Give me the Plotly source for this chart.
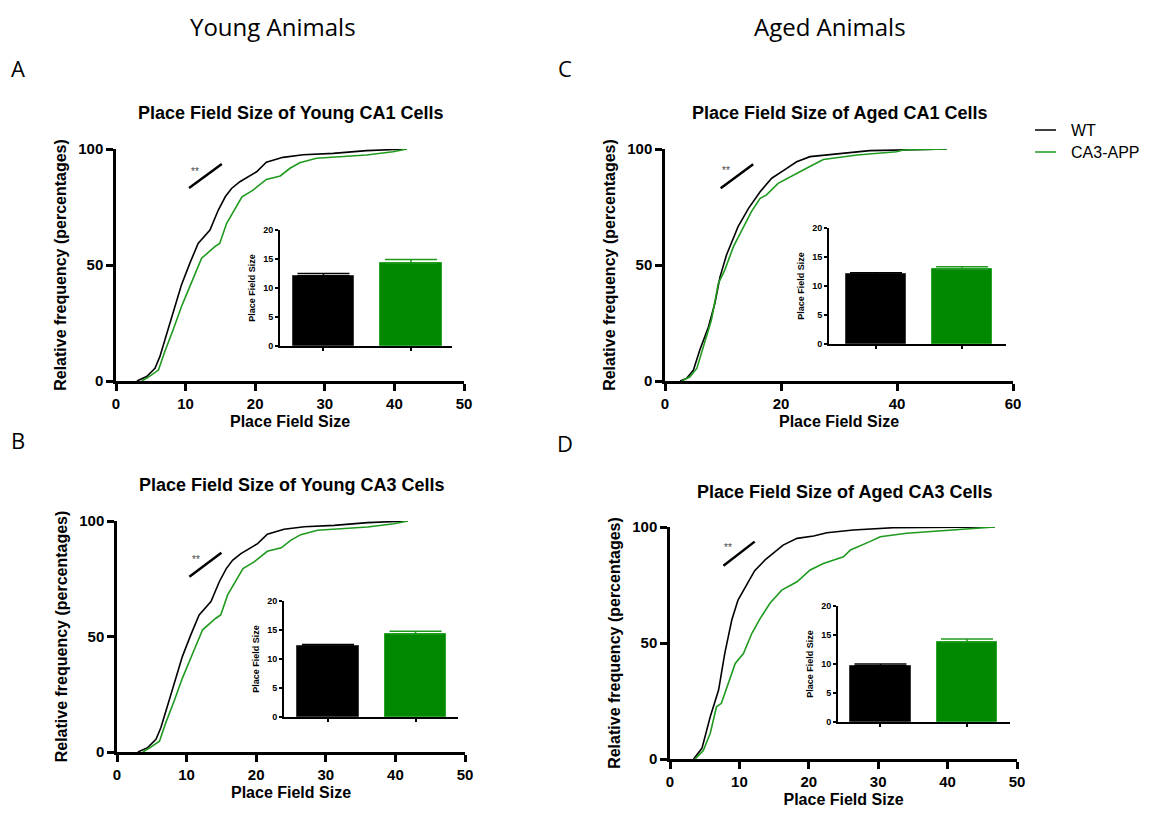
import plotly.graph_objects as go

W, H = 1163, 817
OFF = 8  # page body margin
FW, FH = W - 2 * OFF, H - 2 * OFF

# ---------------- data ----------------
groups = ["WT", "CA3-APP"]

# Young CA1 cumulative curves
young_ca1_wt_x = [3.0, 4.4, 5.6, 6.3, 7.3, 8.2, 9.4, 10.6, 11.8, 13.5, 14.7, 15.7, 16.6, 17.8, 20.2, 21.6, 24.0, 26.9, 31.2, 36.0, 41.8]
young_ca1_wt_y = [0, 1.9, 5.5, 10.5, 20.5, 29.9, 41.4, 50.7, 59.3, 65.1, 73.7, 79.4, 83.0, 85.9, 90.2, 94.3, 96.4, 97.5, 98.1, 99.3, 100]
young_ca1_app_x = [3.7, 4.6, 6.1, 7.0, 8.2, 9.4, 10.6, 11.6, 12.3, 14.2, 14.9, 15.9, 16.9, 18.1, 19.7, 21.6, 23.6, 25.0, 26.4, 28.8, 36.0, 39.8, 41.8]
young_ca1_app_y = [0, 1.6, 4.7, 12.6, 22.0, 32.0, 40.7, 47.8, 52.9, 57.9, 59.3, 68.0, 73.0, 79.4, 82.3, 86.9, 88.4, 91.7, 94.1, 96.0, 97.4, 98.8, 100]

# Young CA3 cumulative curves
young_ca3_wt_x = [3.0, 4.4, 5.6, 6.3, 7.3, 8.2, 9.4, 10.6, 11.8, 13.5, 14.7, 15.7, 16.6, 17.8, 20.2, 21.6, 24.0, 26.9, 31.2, 36.0, 41.8]
young_ca3_wt_y = [0, 1.9, 5.5, 10.5, 20.5, 29.9, 41.4, 50.7, 59.3, 65.1, 73.7, 79.4, 83.0, 85.9, 90.2, 94.3, 96.4, 97.5, 98.1, 99.3, 100]
young_ca3_app_x = [3.7, 4.6, 6.1, 7.0, 8.2, 9.4, 10.6, 11.6, 12.3, 14.2, 14.9, 15.9, 16.9, 18.1, 19.7, 21.6, 23.6, 25.0, 26.4, 28.8, 36.0, 39.8, 41.8]
young_ca3_app_y = [0, 1.6, 4.7, 12.6, 22.0, 32.0, 40.7, 47.8, 52.9, 57.9, 59.3, 68.0, 73.0, 79.4, 82.3, 86.9, 88.4, 91.7, 94.1, 96.0, 97.4, 98.8, 100]

# Aged CA1 cumulative curves
aged_ca1_wt_x = [2.6, 3.7, 4.9, 6.0, 7.5, 8.6, 9.5, 10.6, 12.6, 14.4, 16.4, 18.4, 20.4, 22.7, 25.0, 29.6, 35.3, 48.6]
aged_ca1_wt_y = [0, 1.1, 4.7, 13.4, 23.4, 33.5, 45.0, 54.3, 66.5, 74.4, 81.6, 87.4, 90.7, 94.5, 96.7, 97.8, 99.3, 100]
aged_ca1_app_x = [2.9, 4.3, 5.5, 6.6, 8.0, 9.2, 10.3, 11.8, 13.5, 14.9, 16.4, 17.5, 19.5, 22.1, 24.4, 27.3, 33.1, 39.9, 41.1, 48.6]
aged_ca1_app_y = [0, 1.8, 5.5, 14.8, 26.3, 42.1, 47.8, 57.9, 66.5, 73.0, 78.7, 80.2, 85.2, 88.8, 91.7, 95.5, 97.4, 98.8, 99.6, 100]

# Aged CA3 cumulative curves
aged_ca3_wt_x = [3.4, 4.6, 5.8, 7.0, 7.9, 8.9, 9.8, 11.0, 12.2, 13.7, 14.9, 16.3, 18.3, 20.7, 22.6, 26.4, 32.2, 46.8]
aged_ca3_wt_y = [0, 4.6, 18.2, 29.7, 45.6, 59.9, 68.5, 75.0, 81.2, 85.8, 88.7, 92.2, 95.1, 96.1, 97.5, 98.7, 99.7, 100]
aged_ca3_app_x = [3.6, 4.8, 5.8, 6.7, 7.4, 8.4, 9.4, 10.6, 11.8, 13.0, 14.4, 16.1, 18.3, 20.2, 22.1, 25.0, 26.0, 28.8, 30.3, 34.1, 38.9, 41.8, 46.8]
aged_ca3_app_y = [0, 3.6, 11.1, 22.5, 24.0, 32.6, 41.2, 45.6, 54.2, 60.6, 67.1, 72.8, 76.4, 81.5, 84.3, 87.2, 90.1, 93.7, 95.8, 97.3, 98.3, 99.0, 100]

# Inset bar charts: mean place field size and SEM
young_ca1_mean = [12.1, 14.3]
young_ca1_sem = [0.4, 0.6]
young_ca3_mean = [12.2, 14.3]
young_ca3_sem = [0.3, 0.5]
aged_ca1_mean = [12.0, 12.9]
aged_ca1_sem = [0.3, 0.4]
aged_ca3_mean = [9.7, 13.8]
aged_ca3_sem = [0.3, 0.5]

# significance marks (line ends in data units, label position)
young_ca1_sig = [10.5, 83.2, 15.2, 93.5, 11.35, 90.5]
young_ca3_sig = [10.4, 75.9, 15.0, 86.3, 11.35, 83.4]
aged_ca1_sig = [9.6, 83.1, 15.2, 93.4, 10.6, 90.6]
aged_ca3_sig = [7.7, 83.3, 12.2, 93.7, 8.4, 91.1]

titles = ["Place Field Size of Young CA1 Cells", "Place Field Size of Young CA3 Cells",
          "Place Field Size of Aged CA1 Cells", "Place Field Size of Aged CA3 Cells"]
x_max = [50, 50, 60, 50]
x_dtick = [10, 10, 20, 10]

# ---------------- styling / layout ----------------
BLACK = "#000000"
GREEN_LINE = "#1f9a1f"
GREEN_BAR = "#008800"
FONT = "Arial, Liberation Sans, sans-serif"


def px(x):
    return (x - OFF) / FW


def py(y):
    return 1 - (y - OFF) / FH


def dx(a, b):
    return [px(a), px(b)]


def dy(top, bot):
    return [py(bot), py(top)]


panels = [
    dict(curves=(young_ca1_wt_x, young_ca1_wt_y, young_ca1_app_x, young_ca1_app_y),
         mean=young_ca1_mean, sem=young_ca1_sem, sig=young_ca1_sig,
         main=(116, 464, 149, 381), inset=(280, 452, 230, 346), irange=[-0.497, 1.469],
         title_pos=(290, 113)),
    dict(curves=(young_ca3_wt_x, young_ca3_wt_y, young_ca3_app_x, young_ca3_app_y),
         mean=young_ca3_mean, sem=young_ca3_sem, sig=young_ca3_sig,
         main=(117, 465, 521, 752), inset=(284, 458, 601, 717), irange=[-0.503, 1.485],
         title_pos=(291, 485)),
    dict(curves=(aged_ca1_wt_x, aged_ca1_wt_y, aged_ca1_app_x, aged_ca1_app_y),
         mean=aged_ca1_mean, sem=aged_ca1_sem, sig=aged_ca1_sig,
         main=(665, 1013, 149, 381), inset=(829, 1006, 228, 344), irange=[-0.547, 1.51],
         title_pos=(839, 113)),
    dict(curves=(aged_ca3_wt_x, aged_ca3_wt_y, aged_ca3_app_x, aged_ca3_app_y),
         mean=aged_ca3_mean, sem=aged_ca3_sem, sig=aged_ca3_sig,
         main=(670, 1017, 527, 759), inset=(838, 1010, 606, 722), irange=[-0.491, 1.497],
         title_pos=(844, 492)),
]

fig = go.Figure()
layout = {}
annotations = []
shapes = []

for i, p in enumerate(panels):
    m = 2 * i + 1
    n = 2 * i + 2
    xm = "x" if m == 1 else f"x{m}"
    ym = "y" if m == 1 else f"y{m}"
    xi, yi = f"x{n}", f"y{n}"
    wx, wy, ax_, ay_ = p["curves"]
    fig.add_trace(go.Scatter(x=wx, y=wy, mode="lines", name=groups[0],
                             line=dict(color=BLACK, width=1.6), xaxis=xm, yaxis=ym,
                             showlegend=False, cliponaxis=False))
    fig.add_trace(go.Scatter(x=ax_, y=ay_, mode="lines", name=groups[1],
                             line=dict(color=GREEN_LINE, width=1.6), xaxis=xm, yaxis=ym,
                             showlegend=False, cliponaxis=False))
    for k in range(2):
        fig.add_trace(go.Bar(x=[k], y=[p["mean"][k]], width=0.7, name=groups[k],
                             marker=dict(color=BLACK if k == 0 else GREEN_BAR,
                                         line=dict(color="#3a3a3a" if k == 0 else "#2aa52a", width=1)),
                             error_y=dict(type="data", symmetric=False, array=[p["sem"][k]],
                                          arrayminus=[0], color=BLACK if k == 0 else GREEN_LINE,
                                          thickness=1.5, width=26),
                             xaxis=xi, yaxis=yi, showlegend=False))

    x0, x1, t, b = p["main"]
    ml = "xaxis" if m == 1 else f"xaxis{m}"
    yl = "yaxis" if m == 1 else f"yaxis{m}"
    layout[ml] = dict(domain=dx(x0, x1), anchor=ym, range=[0, x_max[i]], dtick=x_dtick[i],
                      tick0=0, showline=True, linecolor=BLACK, linewidth=2.5, ticks="outside",
                      ticklen=7, tickwidth=2.5, tickcolor=BLACK, showgrid=False, zeroline=False,
                      tickfont=dict(family=FONT, size=15, color=BLACK, weight="bold"),
                      title=dict(text="Place Field Size", standoff=6,
                                 font=dict(family=FONT, size=16, color=BLACK, weight="bold")),
                      automargin=False, fixedrange=True)
    layout[yl] = dict(domain=dy(t, b), anchor=xm, range=[0, 100], dtick=50, tick0=0,
                      showline=True, linecolor=BLACK, linewidth=2.5, ticks="outside",
                      ticklen=7, tickwidth=2.5, tickcolor=BLACK, showgrid=False, zeroline=False,
                      tickfont=dict(family=FONT, size=15, color=BLACK, weight="bold"),
                      title=dict(text="Relative frequency (percentages)", standoff=8,
                                 font=dict(family=FONT, size=16, color=BLACK, weight="bold")),
                      automargin=False, fixedrange=True)

    ix0, ix1, it, ib = p["inset"]
    layout[f"xaxis{n}"] = dict(domain=dx(ix0, ix1), anchor=yi, range=p["irange"],
                               tickvals=[0, 1], showticklabels=False, showline=True,
                               linecolor=BLACK, linewidth=2, ticks="outside", ticklen=3,
                               tickwidth=1.5, tickcolor=BLACK, showgrid=False, zeroline=False,
                               automargin=False, fixedrange=True)
    layout[f"yaxis{n}"] = dict(domain=dy(it, ib), anchor=xi, range=[0, 20], dtick=5, tick0=0,
                               showline=True, linecolor=BLACK, linewidth=2, ticks="outside",
                               ticklen=3, tickwidth=1.5, tickcolor=BLACK, showgrid=False,
                               zeroline=False,
                               tickfont=dict(family=FONT, size=9, color=BLACK, weight="bold"),
                               title=dict(text="Place Field Size", standoff=6,
                                          font=dict(family=FONT, size=9, color=BLACK, weight="bold")),
                               automargin=False, fixedrange=True)

    s = p["sig"]
    shapes.append(dict(type="line", xref=xm, yref=ym, x0=s[0], y0=s[1], x1=s[2], y1=s[3],
                       line=dict(color=BLACK, width=2.5)))
    annotations.append(dict(text="**", xref=xm, yref=ym, x=s[4], y=s[5], showarrow=False,
                            font=dict(family=FONT, size=10, color="#444444")))
    tx, ty = p["title_pos"]
    annotations.append(dict(text=f"<b>{titles[i]}</b>", xref="paper", yref="paper",
                            x=px(tx), y=py(ty), showarrow=False, xanchor="center",
                            yanchor="middle",
                            font=dict(family=FONT, size=18, color=BLACK)))

HEAD = "Open Sans, Noto Sans, sans-serif"
for txt, x in [("Young Animals", 273), ("Aged Animals", 830)]:
    annotations.append(dict(text=txt, xref="paper", yref="paper", x=px(x), y=1.0,
                            showarrow=False, xanchor="center", yanchor="top",
                            font=dict(family=HEAD, size=24, color=BLACK)))
for txt, x, y in [("A", 18, 68), ("B", 18, 440), ("C", 565, 68), ("D", 565, 443)]:
    annotations.append(dict(text=txt, xref="paper", yref="paper", x=px(x), y=py(y),
                            showarrow=False, xanchor="center", yanchor="middle",
                            font=dict(family=HEAD, size=22, color=BLACK)))

# legend (line samples + labels)
for k, (col, y) in enumerate([(BLACK, 130), (GREEN_LINE, 152)]):
    shapes.append(dict(type="line", xref="paper", yref="paper", x0=px(1035), x1=px(1056),
                       y0=py(y), y1=py(y), line=dict(color=col, width=1.5)))
    annotations.append(dict(text=groups[k], xref="paper", yref="paper", x=px(1069),
                            y=py(y), showarrow=False, xanchor="left", yanchor="middle",
                            font=dict(family=FONT, size=16, color=BLACK)))

fig.update_layout(width=FW, height=FH, margin=dict(l=0, r=0, t=0, b=0),
                  paper_bgcolor="white", plot_bgcolor="rgba(0,0,0,0)",
                  showlegend=False, bargap=0, annotations=annotations, shapes=shapes,
                  **layout)

fig.write_html("out.html")
